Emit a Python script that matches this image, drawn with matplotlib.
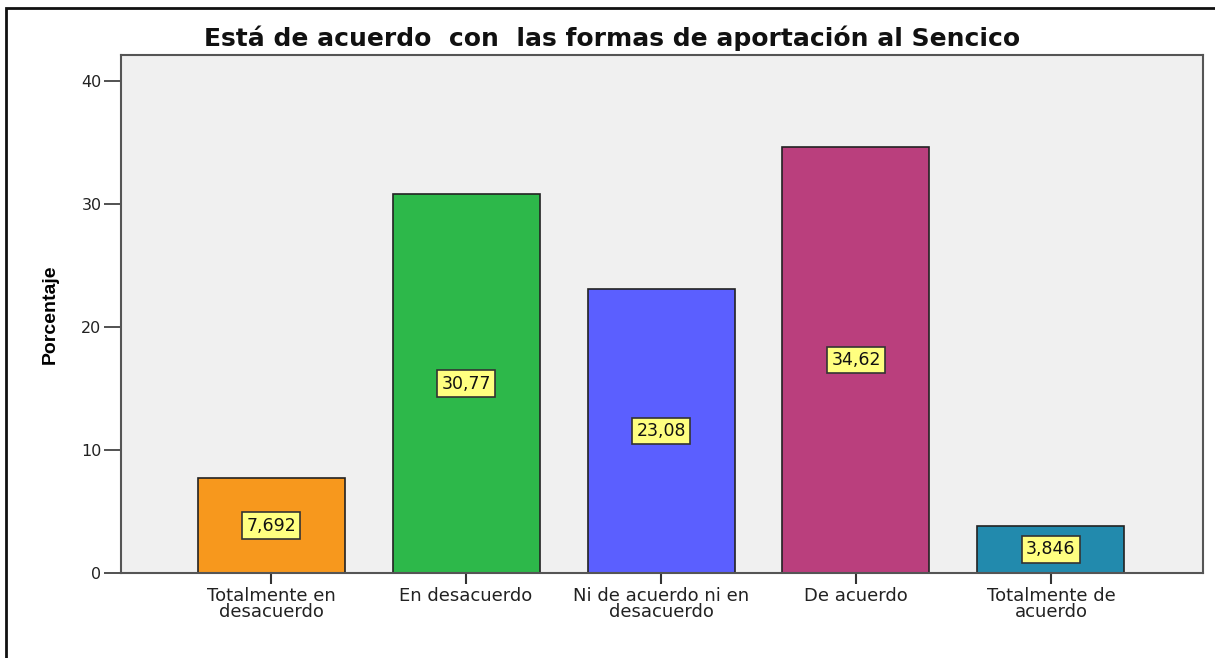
import matplotlib
matplotlib.use("Agg")
import matplotlib.pyplot as plt
from matplotlib.patches import Rectangle

categorias = ["Totalmente en\ndesacuerdo", "En desacuerdo", "Ni de acuerdo ni en\ndesacuerdo",
              "De acuerdo", "Totalmente de\nacuerdo"]
porcentajes = [7.692, 30.77, 23.08, 34.62, 3.846]
etiquetas = ["7,692", "30,77", "23,08", "34,62", "3,846"]
colores = ["#F7981D", "#2DB84A", "#5B5FFF", "#BA3F7D", "#228AAD"]
ticks_y = [0, 10, 20, 30, 40]

plt.rcParams['font.family'] = ['DejaVu Sans']

fig = plt.figure(figsize=(12.15, 6.58), dpi=100)
fig.patch.set_facecolor("white")
ax = fig.add_axes([121/1215, 1 - 573/658, (1203-121)/1215, (573-55)/658])
ax.set_facecolor("#F0F0F0")

x = range(len(categorias))
ax.bar(x, porcentajes, width=0.754, color=colores, edgecolor="#222222", linewidth=1.2, zorder=2)

for i, (v, t) in enumerate(zip(porcentajes, etiquetas)):
    ax.text(i, v / 2, t, ha="center", va="center", fontsize=12.5, color="#111111", zorder=3,
            bbox=dict(boxstyle="square,pad=0.25", facecolor="#FFFF80", edgecolor="#333333", linewidth=1.2))

ax.set_xlim(-0.77, 4.78)
ax.set_ylim(0, 42.1)
ax.set_yticks(ticks_y)
ax.set_xticks(list(x))
ax.set_xticklabels(categorias, fontsize=13, color="#222222", linespacing=0.85)
ax.tick_params(axis="y", labelsize=11.5, labelcolor="#222222", length=12, width=1.2, color="#333333", pad=2)
ax.tick_params(axis="x", length=8, width=1.5, color="#333333", pad=2)
for s in ax.spines.values():
    s.set_color("#555555")
    s.set_linewidth(1.5)

ax.set_ylabel("Porcentaje", fontsize=14, fontweight="bold",
              family=["Liberation Sans Narrow", "Liberation Sans", "DejaVu Sans"], labelpad=16)
fig.text(612/1215, 1 - 38/658, "Está de acuerdo  con  las formas de aportación al Sencico",
         ha="center", va="center", fontsize=18, fontweight="bold", color="#111111")

# marco exterior
fig.patches.append(Rectangle((6/1215, -0.1), 1.2, 1 - 8/658 + 0.1, transform=fig.transFigure,
                             fill=False, edgecolor="#111111", linewidth=2, clip_on=False))

fig.savefig("out.png", dpi=100)
